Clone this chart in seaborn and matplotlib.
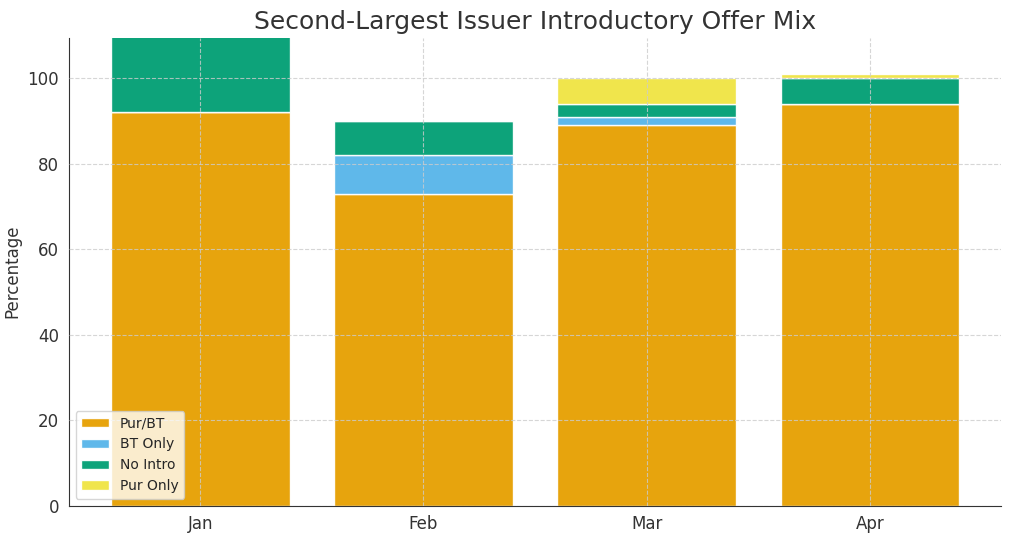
import matplotlib
matplotlib.use("Agg")
import matplotlib.pyplot as plt
import seaborn as sns
import numpy as np

months = ["Jan", "Feb", "Mar", "Apr"]
pur_bt = [92, 73, 89, 94]
bt_only = [0, 9, 2, 0]
no_intro = [18, 8, 3, 6]
pur_only = [0, 0, 6, 1]

series = [("Pur/BT", pur_bt, "#E69F00"),
          ("BT Only", bt_only, "#56B4E9"),
          ("No Intro", no_intro, "#009E73"),
          ("Pur Only", pur_only, "#F0E442")]

sns.set_style("whitegrid", {"grid.linestyle": "--", "grid.color": "#cccccc"})
fig, ax = plt.subplots(figsize=(10.24, 5.38), dpi=100)

bottom = np.zeros(len(months))
for name, vals, color in series:
    ax.bar(months, vals, bottom=bottom, color=color, label=name, width=0.8, alpha=0.95)
    bottom += np.array(vals)

ax.set_ylim(0, 109.5)
ax.set_title("Second-Largest Issuer Introductory Offer Mix", fontsize=18, color="#333333")
ax.set_ylabel("Percentage", fontsize=12, color="#333333")
ax.tick_params(labelsize=12, colors="#333333")
for s in ["top", "right"]:
    ax.spines[s].set_visible(False)
for s in ["left", "bottom"]:
    ax.spines[s].set_color("#333333")
ax.set_axisbelow(False)
ax.grid(True, linestyle="--", color="#cccccc", alpha=0.8, linewidth=0.8)
ax.legend(loc="lower left", fontsize=10)
fig.subplots_adjust(left=0.067, right=0.978, top=0.93, bottom=0.06)
fig.savefig("out.png")
